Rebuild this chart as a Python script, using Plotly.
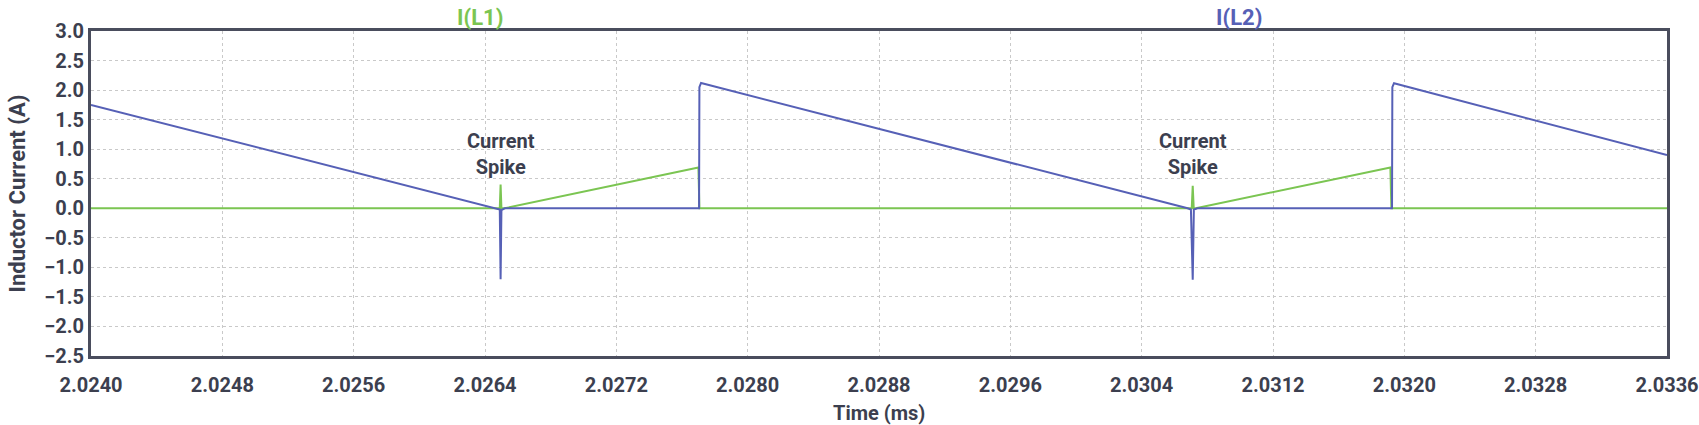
import plotly.graph_objects as go

# ---- data (time in ms, current in A) ----
t_L1 = [2.0240, 2.026490, 2.026495, 2.026500, 2.026520, 2.027700, 2.027706,
        2.030705, 2.030711, 2.030717, 2.030730, 2.031915, 2.031921, 2.0336]
i_L1 = [0.0, 0.0, 0.40, 0.0, 0.0, 0.69, 0.0,
        0.0, 0.38, 0.0, 0.0, 0.69, 0.0, 0.0]

t_L2 = [2.0240, 2.026470, 2.026490, 2.026495, 2.026500, 2.026520, 2.027704,
        2.027706, 2.027716, 2.030680, 2.030700, 2.030711, 2.030718, 2.030740,
        2.031925, 2.031927, 2.031937, 2.0336]
i_L2 = [1.75, 0.0, -0.02, -1.20, -0.03, 0.0, 0.0,
        2.05, 2.12, 0.0, -0.02, -1.21, -0.02, 0.0,
        0.0, 2.05, 2.115, 0.90]

x_tick_vals = [2.0240, 2.0248, 2.0256, 2.0264, 2.0272, 2.0280, 2.0288,
               2.0296, 2.0304, 2.0312, 2.0320, 2.0328, 2.0336]
x_tick_text = ["2.0240", "2.0248", "2.0256", "2.0264", "2.0272", "2.0280", "2.0288",
               "2.0296", "2.0304", "2.0312", "2.0320", "2.0328", "2.0336"]
y_tick_vals = [-2.5, -2.0, -1.5, -1.0, -0.5, 0.0, 0.5, 1.0, 1.5, 2.0, 2.5, 3.0]

spike_times = [2.026495, 2.030711]
spike_label_y = 0.92
series_names = ["I(L1)", "I(L2)"]
series_label_x = [2.02637, 2.03099]

GREEN = "#7bc552"
BLUE = "#5660b6"
TEXT = "#3c3f4f"
AXIS = "#4a4d5d"
FONT = "Roboto"

W, H = 1699, 425
ML, MR, MT, MB = 91, 32, 31, 69
PW, PH = W - ML - MR, H - MT - MB

fig = go.Figure()
fig.add_trace(go.Scatter(x=t_L1, y=i_L1, mode="lines", name=series_names[0],
                         line=dict(color=GREEN, width=2)))
fig.add_trace(go.Scatter(x=t_L2, y=i_L2, mode="lines", name=series_names[1],
                         line=dict(color=BLUE, width=2)))

for ts in spike_times:
    fig.add_annotation(x=ts, y=spike_label_y, xref="x", yref="y",
                       xanchor="center", yanchor="middle",
                       text="<b>Current<br>Spike</b>", showarrow=False,
                       font=dict(family=FONT, size=20, color=TEXT), align="center")

for name, xl, col in zip(series_names, series_label_x, [GREEN, BLUE]):
    fig.add_annotation(x=xl, y=1.0, xref="x", yref="paper", xanchor="center",
                       yanchor="bottom", yshift=-1, text="<b>%s</b>" % name,
                       showarrow=False, font=dict(family=FONT, size=22, color=col))

# axis titles
fig.add_annotation(x=(17 - ML) / PW, y=0.5, xref="paper", yref="paper",
                   xanchor="center", yanchor="middle",
                   text="<b>Inductor Current (A)</b>", textangle=-90, showarrow=False,
                   font=dict(family=FONT, size=22, color=TEXT))
fig.add_annotation(x=0.5, y=-(413 - (H - MB)) / PH, xref="paper", yref="paper",
                   xanchor="center", yanchor="middle",
                   text="<b>Time (ms)</b>", showarrow=False,
                   font=dict(family=FONT, size=20, color=TEXT))

fig.update_layout(
    width=W, height=H,
    margin=dict(l=ML, r=MR, t=MT, b=MB, autoexpand=False),
    paper_bgcolor="white", plot_bgcolor="white",
    showlegend=False,
    font=dict(family=FONT, color=TEXT),
)
fig.update_xaxes(
    range=[2.0240, 2.0336], tickvals=x_tick_vals, ticktext=x_tick_text,
    automargin=False,
    showgrid=True, gridcolor="#c9c9c9", griddash="dot", gridwidth=1,
    showline=True, linecolor=AXIS, linewidth=3, mirror=True, zeroline=False,
    ticks="outside", ticklen=9, tickcolor="rgba(0,0,0,0)",
    tickfont=dict(family=FONT, size=20, color=TEXT, weight="bold"),
)
fig.update_yaxes(
    range=[-2.5, 3.0], tickvals=y_tick_vals, tickformat=".1f",
    automargin=False,
    showgrid=True, gridcolor="#c9c9c9", griddash="dot", gridwidth=1,
    showline=True, linecolor=AXIS, linewidth=3, mirror=True, zeroline=False,
    ticks="",
    tickfont=dict(family=FONT, size=20, color=TEXT, weight="bold"),
)

fig.write_html(
    "out.html",
    config={"displayModeBar": False},
    post_script="document.body.style.margin='0';document.body.style.overflow='hidden';",
)
